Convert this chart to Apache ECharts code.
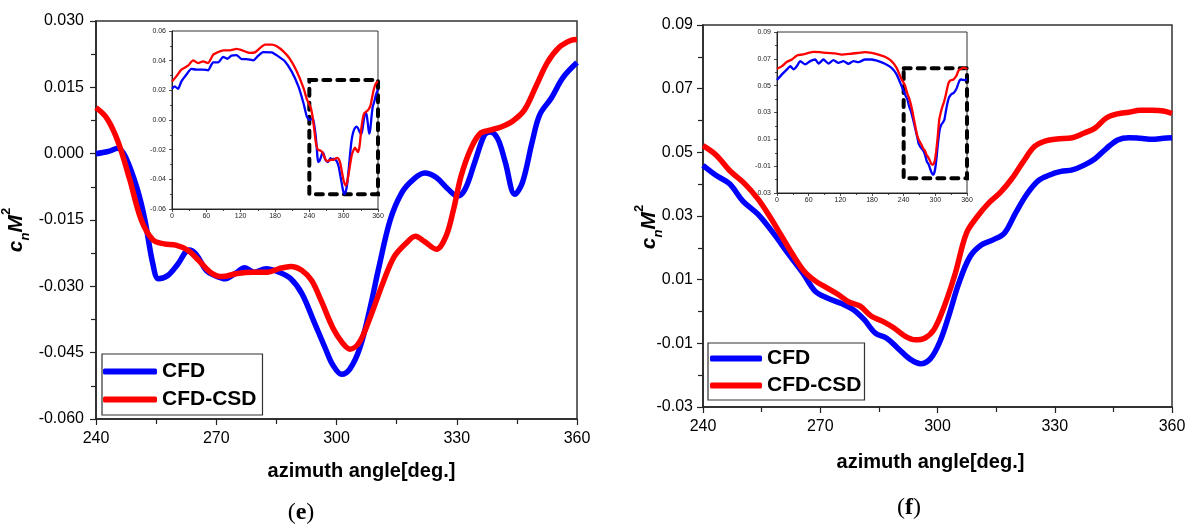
<!DOCTYPE html>
<html>
<head>
<meta charset="utf-8">
<script src="https://cdn.jsdelivr.net/npm/echarts@6/dist/echarts.min.js"></script>
<style>
  html, body { margin: 0; padding: 0; background: #fff; }
  #chart { width: 1193px; height: 530px; }
</style>
</head>
<body>
<div id="chart"></div>
<script>
// ---------- panel (e): normal force coefficient, 240–360 deg ----------
const eCfdAngle = [240,243,245.5,247.5,250.3,252.2,254.2,255.6,258,260.4,263.2,265,267.5,269.5,272.3,274.7,277.1,279.5,282.4,285.7,288.6,291.4,294.3,297.2,299.1,301.3,303.4,305.8,308.2,310.6,313.4,316.3,319.2,322,324.9,327.8,330.2,332.1,334.5,336.9,338.3,340.2,342.1,344.5,346.4,348.8,350.7,353.6,356.5,360];
const eCfdValue = [0.0,0.0005,0.0012,-0.001,-0.008,-0.015,-0.025,-0.0283,-0.0275,-0.025,-0.0218,-0.0228,-0.0264,-0.0275,-0.0283,-0.0271,-0.0258,-0.0268,-0.026,-0.0268,-0.0283,-0.0317,-0.0378,-0.044,-0.0478,-0.0499,-0.0486,-0.044,-0.0356,-0.0256,-0.015,-0.0088,-0.0058,-0.0044,-0.0054,-0.008,-0.0096,-0.008,-0.0019,0.0042,0.0049,0.0034,-0.0019,-0.0092,-0.0065,0.0026,0.0088,0.0126,0.0172,0.0206];
const eCsdAngle = [240,242.7,245.5,248.4,251.3,254.2,257,259.9,262.8,265.6,268.5,271.4,275.2,279,282.8,285.7,288.6,291.4,293.8,296.2,299.1,301.5,303.4,305.8,308.7,311.5,314.4,317.3,319.7,322,324.9,327.3,329.2,331.1,333.5,335.9,338.3,341.2,344,346.9,349.8,352.6,355.5,358.4,360];
const eCsdValue = [0.0104,0.008,0.0027,-0.0058,-0.015,-0.0195,-0.0204,-0.0207,-0.0218,-0.0241,-0.0268,-0.0278,-0.0271,-0.0268,-0.0268,-0.026,-0.0255,-0.0264,-0.0287,-0.0333,-0.0394,-0.0428,-0.0442,-0.0425,-0.0363,-0.0294,-0.0233,-0.0203,-0.0187,-0.0199,-0.0216,-0.0187,-0.0126,-0.005,0.0011,0.0046,0.0053,0.0061,0.0074,0.0099,0.0153,0.0206,0.024,0.0256,0.0258];

// first part of the revolution (0–240 deg), shown in the small overview plot
const eInsetCfdAngle = [0,4.7,10.5,16.4,25,34,42.7,54,63,71.9,80.6,89.4,96.4,104,112.8,121.5,130,142,150.8,159.5,174,185.8,197.5,209,220.9,229.7,235.5];
const eInsetCfdValue = [0.021,0.0227,0.021,0.026,0.0305,0.0344,0.034,0.034,0.0335,0.0389,0.0389,0.0425,0.0413,0.0434,0.0438,0.0411,0.0411,0.0402,0.0434,0.0458,0.0456,0.0429,0.0395,0.0328,0.0227,0.0115,0.0025];
const eInsetCsdAngle = [0,7.6,16.4,28,36.8,45.6,54.3,63,71.9,80.6,89.4,101,112.8,124.5,136,145,153.7,162.5,174,183,194.6,206.3,218,229.7,236];
const eInsetCsdValue = [0.026,0.0294,0.0339,0.0366,0.0402,0.0384,0.0395,0.0384,0.044,0.0458,0.047,0.047,0.0479,0.0467,0.0452,0.0456,0.0485,0.0508,0.0508,0.0497,0.0463,0.0411,0.0328,0.0216,0.0137];
const eZoomBox = { x: [240, 360], y: [-0.05, 0.027] };

// ---------- panel (f) ----------
const fCfdAngle = [240,243.4,246.8,250.2,254.1,258,261.8,265.7,268.6,271.5,275.4,278.3,281.2,284.1,287,289.9,292.8,295.7,298.2,300.6,303,305.4,308.3,311.2,314.2,317.1,320,322.9,325.8,328.7,331.6,334.5,337.4,340.3,343.2,346.1,349,351.9,354.9,357.8,360];
const fCfdValue = [0.0459,0.0427,0.0401,0.0347,0.0305,0.0246,0.0182,0.0118,0.0065,0.0044,0.0025,0.0007,-0.0025,-0.0068,-0.0084,-0.0116,-0.0148,-0.0164,-0.0148,-0.0095,-0.0009,0.0087,0.0172,0.0209,0.0225,0.0246,0.031,0.0369,0.0411,0.0429,0.044,0.0445,0.0459,0.048,0.0512,0.0539,0.0546,0.0544,0.0541,0.0544,0.0546];
const fCsdAngle = [240,243.4,246.8,250.7,254.1,257,259.9,262.8,265.7,268.6,271.5,274.4,277.3,280.2,283.1,286,288.9,291.9,294.3,296.7,299.1,301.6,304.5,307.4,310.3,313.2,316.1,319,321.9,324.8,327.7,330.6,334.5,337.4,340.3,343.2,346.1,349,351.9,354.9,357.8,360];
const fCsdValue = [0.0521,0.0491,0.0443,0.0401,0.0353,0.03,0.0241,0.0182,0.0129,0.0097,0.0076,0.0055,0.003,0.0017,-0.0015,-0.0031,-0.0052,-0.0079,-0.0089,-0.0084,-0.0057,0.0012,0.0118,0.0246,0.03,0.0342,0.0374,0.0417,0.047,0.0518,0.0536,0.0542,0.0546,0.056,0.0576,0.0608,0.0621,0.0626,0.0632,0.0632,0.063,0.0622];

const fInsetCfdAngle = [0,9.4,18.9,25.2,31.5,37.8,44,53.5,63,72.4,78.7,88,97.6,107,116.4,125.9,135.3,144.8,154.2,166.8,179.4,192,204.5,217,226.6,236];
const fInsetCfdValue = [0.0542,0.0584,0.0621,0.0646,0.0621,0.0646,0.0683,0.0658,0.0683,0.0695,0.0665,0.0695,0.0665,0.069,0.067,0.0683,0.0663,0.0683,0.0675,0.0695,0.0695,0.0683,0.0663,0.0633,0.0584,0.0497];
const fInsetCsdAngle = [0,9.4,18.9,28.3,37.8,47.2,56.6,69.2,81.8,94.4,110,122.7,138.5,154.2,166.8,179.4,192,204.5,217,226.6,236];
const fInsetCsdValue = [0.0626,0.0646,0.0678,0.0695,0.0725,0.0732,0.074,0.0752,0.075,0.0744,0.074,0.0732,0.0737,0.0744,0.075,0.0744,0.0732,0.0715,0.0683,0.0633,0.0547];
const fZoomBox = { x: [240, 360], y: [-0.019, 0.063] };

// tick labels
const fMainLabels = [-0.03, -0.01, 0.01, 0.03, 0.05, 0.07, 0.09];
const fMinorTicks = [-0.02, 0, 0.02, 0.04, 0.06, 0.08];
const seriesNames = ['CFD', 'CFD-CSD'];

const zip = (xs, ys) => xs.map((x, i) => [x, ys[i]]);

const FONT = '"Liberation Sans", Arial, sans-serif';
const SERIF = '"Liberation Serif", "Times New Roman", serif';
const BLUE = '#0000ff';
const RED = '#ff0000';
const AXIS = '#222';

const grids = [
  { left: 96, top: 21, width: 481, height: 398 },    // (e) main
  { left: 172, top: 31, width: 206, height: 178 },   // (e) overview
  { left: 703, top: 25, width: 469, height: 382 },   // (f) main
  { left: 777, top: 32, width: 190, height: 161 }    // (f) overview
].map((g, i) => Object.assign({
  show: true,
  outerBoundsMode: 'none',
  containLabel: false,
  borderColor: '#333',
  borderWidth: i % 2 ? 1 : 1.5,
  backgroundColor: 'transparent'
}, g));

function mainX(gridIndex, nameGap, shift) {
  return {
    type: 'value', gridIndex, min: 240, max: 360, interval: 30,
    axisLine: { onZero: false, lineStyle: { color: AXIS, width: 1.5 } },
    axisTick: { length: 6, lineStyle: { color: AXIS, width: 1.2 } },
    minorTick: { show: true, splitNumber: 2, length: 5, lineStyle: { color: AXIS, width: 1.2 } },
    splitLine: { show: false },
    axisLabel: { fontFamily: FONT, fontSize: 16, color: '#000', margin: 12 },
    name: 'azimuth angle[deg.]', nameLocation: 'middle', nameGap, nameMoveOverlap: false,
    nameTextStyle: { fontFamily: FONT, fontSize: 20, fontWeight: 'bold', color: '#000', padding: [0, 0, 0, shift] }
  };
}
function insetX(gridIndex) {
  return {
    type: 'value', gridIndex, min: 0, max: 360, interval: 60,
    axisLine: { onZero: false, lineStyle: { color: AXIS, width: 1 } },
    axisTick: { length: 3, lineStyle: { color: AXIS, width: 0.8 } },
    minorTick: { show: true, splitNumber: 2, length: 2, lineStyle: { color: AXIS, width: 0.8 } },
    splitLine: { show: false },
    axisLabel: { fontFamily: FONT, fontSize: 7, color: '#222', margin: 4 }
  };
}
const yRich = {
  i: { fontFamily: FONT, fontSize: 21, fontWeight: 'bold', fontStyle: 'italic', color: '#000', lineHeight: 32 },
  sub: { fontFamily: FONT, fontSize: 13, fontWeight: 'bold', fontStyle: 'italic', color: '#000', verticalAlign: 'bottom' },
  sup: { fontFamily: FONT, fontSize: 13, fontWeight: 'bold', color: '#000', verticalAlign: 'top' }
};
const yName = '{i|c}{sub|n}{i|M}{sup|2}';

function zoomBox(box) {
  return {
    silent: true,
    itemStyle: { color: 'rgba(0,0,0,0)', borderColor: '#000', borderWidth: 4, borderType: [7, 7], borderCap: 'round' },
    data: [[{ coord: [box.x[0], box.y[1]] }, { coord: [box.x[1], box.y[0]] }]]
  };
}

const option = {
  animation: false,
  backgroundColor: '#fff',
  grid: grids,
  xAxis: [mainX(0, 42, 50), insetX(1), mainX(2, 45, -14), insetX(3)],
  yAxis: [
    {
      type: 'value', gridIndex: 0, min: -0.06, max: 0.03, interval: 0.015,
      axisLine: { show: true, onZero: false, lineStyle: { color: AXIS, width: 1.5 } },
      axisTick: { show: true, length: 6, lineStyle: { color: AXIS, width: 1.2 } },
      minorTick: { show: true, splitNumber: 2, length: 5, lineStyle: { color: AXIS, width: 1.2 } },
      splitLine: { show: false },
      axisLabel: { fontFamily: FONT, fontSize: 16, color: '#000', margin: 12,
        formatter: v => (Math.abs(v) < 1e-9 ? 0 : v).toFixed(3) },
      name: yName, nameLocation: 'middle', nameGap: 64, nameRotate: 90, nameMoveOverlap: false,
      nameTextStyle: { padding: [0, 20, 0, 0], rich: yRich }
    },
    {
      type: 'value', gridIndex: 1, min: -0.06, max: 0.06, interval: 0.02,
      axisLine: { show: true, onZero: false, lineStyle: { color: AXIS, width: 1 } },
      axisTick: { show: true, length: 3, lineStyle: { color: AXIS, width: 0.8 } },
      minorTick: { show: true, splitNumber: 2, length: 2, lineStyle: { color: AXIS, width: 0.8 } },
      splitLine: { show: false },
      axisLabel: { fontFamily: FONT, fontSize: 7, color: '#222', margin: 6,
        formatter: v => (Math.abs(v) < 1e-9 ? 0 : v).toFixed(2) }
    },
    {
      type: 'value', gridIndex: 2, min: -0.03, max: 0.09, interval: 0.01, position: 'left',
      axisLine: { show: true, onZero: false, lineStyle: { color: AXIS, width: 1.5 } },
      axisTick: { show: true, length: 6, customValues: fMainLabels, lineStyle: { color: AXIS, width: 1.2 } },
      splitLine: { show: false },
      axisLabel: { fontFamily: FONT, fontSize: 16, color: '#000', margin: 10, customValues: fMainLabels,
        formatter: v => v.toFixed(2) },
      name: yName, nameLocation: 'middle', nameGap: 38, nameRotate: 90, nameMoveOverlap: false,
      nameTextStyle: { padding: [0, 22, 0, 0], rich: yRich }
    },
    {
      type: 'value', gridIndex: 2, min: -0.03, max: 0.09, interval: 0.01, position: 'left', offset: 0,
      axisLine: { show: false, onZero: false },
      axisTick: { show: true, length: 5, customValues: fMinorTicks, lineStyle: { color: AXIS, width: 1.2 } },
      axisLabel: { show: false },
      splitLine: { show: false }
    },
    {
      type: 'value', gridIndex: 3, min: -0.03, max: 0.09, interval: 0.01, position: 'left',
      axisLine: { show: true, onZero: false, lineStyle: { color: AXIS, width: 1 } },
      axisTick: { show: true, length: 3, customValues: fMainLabels, lineStyle: { color: AXIS, width: 0.8 } },
      splitLine: { show: false },
      axisLabel: { fontFamily: FONT, fontSize: 7, color: '#222', margin: 6, customValues: fMainLabels,
        formatter: v => v.toFixed(2) }
    },
    {
      type: 'value', gridIndex: 3, min: -0.03, max: 0.09, interval: 0.01, position: 'left', offset: 0,
      axisLine: { show: false, onZero: false },
      axisTick: { show: true, length: 2, customValues: fMinorTicks, lineStyle: { color: AXIS, width: 0.8 } },
      axisLabel: { show: false },
      splitLine: { show: false }
    }
  ],
  legend: [
    {
      data: seriesNames, orient: 'vertical', left: 102, top: 354,
      itemWidth: 54, itemHeight: 6, itemGap: 7, icon: 'roundRect',
      padding: [7, 6, 5, 1], borderColor: '#333', borderWidth: 1.2, selectedMode: false,
      textStyle: { fontFamily: FONT, fontSize: 21, fontWeight: 'bold', color: '#000' }
    },
    {
      data: seriesNames, orient: 'vertical', left: 708, top: 343,
      itemWidth: 52, itemHeight: 6, itemGap: 6, icon: 'roundRect',
      padding: [5, 3, 4, 2], borderColor: '#333', borderWidth: 1.2, selectedMode: false,
      textStyle: { fontFamily: FONT, fontSize: 21, fontWeight: 'bold', color: '#000' }
    }
  ],
  series: [
    // panel (e)
    { name: 'CFD', type: 'line', xAxisIndex: 0, yAxisIndex: 0, data: zip(eCfdAngle, eCfdValue),
      smooth: 0.35, showSymbol: false, lineStyle: { color: BLUE, width: 5.5 }, itemStyle: { color: BLUE } },
    { name: 'CFD-CSD', type: 'line', xAxisIndex: 0, yAxisIndex: 0, data: zip(eCsdAngle, eCsdValue),
      smooth: 0.35, showSymbol: false, lineStyle: { color: RED, width: 5.5 }, itemStyle: { color: RED } },
    { name: 'CFD', type: 'line', xAxisIndex: 1, yAxisIndex: 1,
      data: zip(eInsetCfdAngle.concat(eCfdAngle), eInsetCfdValue.concat(eCfdValue)),
      smooth: 0.2, showSymbol: false, lineStyle: { color: BLUE, width: 2.3 } },
    { name: 'CFD-CSD', type: 'line', xAxisIndex: 1, yAxisIndex: 1, clip: false,
      data: zip(eInsetCsdAngle.concat(eCsdAngle), eInsetCsdValue.concat(eCsdValue)),
      smooth: 0.2, showSymbol: false, lineStyle: { color: RED, width: 2.3 },
      markArea: zoomBox(eZoomBox) },
    // panel (f)
    { name: 'CFD', type: 'line', xAxisIndex: 2, yAxisIndex: 2, data: zip(fCfdAngle, fCfdValue),
      smooth: 0.35, showSymbol: false, lineStyle: { color: BLUE, width: 5.5 }, itemStyle: { color: BLUE } },
    { name: 'CFD-CSD', type: 'line', xAxisIndex: 2, yAxisIndex: 2, data: zip(fCsdAngle, fCsdValue),
      smooth: 0.35, showSymbol: false, lineStyle: { color: RED, width: 5.5 }, itemStyle: { color: RED } },
    { name: 'CFD', type: 'line', xAxisIndex: 3, yAxisIndex: 4,
      data: zip(fInsetCfdAngle.concat(fCfdAngle), fInsetCfdValue.concat(fCfdValue)),
      smooth: 0.2, showSymbol: false, lineStyle: { color: BLUE, width: 2.3 } },
    { name: 'CFD-CSD', type: 'line', xAxisIndex: 3, yAxisIndex: 4, clip: false,
      data: zip(fInsetCsdAngle.concat(fCsdAngle), fInsetCsdValue.concat(fCsdValue)),
      smooth: 0.2, showSymbol: false, lineStyle: { color: RED, width: 2.3 },
      markArea: zoomBox(fZoomBox) }
  ],
  graphic: [
    { type: 'text', x: 301, y: 513, style: { text: '({b|e})', font: '24px ' + SERIF, fill: '#000',
      align: 'center', verticalAlign: 'middle', rich: { b: { fontFamily: SERIF, fontSize: 24, fontWeight: 'bold', fill: '#000' } } } },
    { type: 'text', x: 909, y: 508, style: { text: '({b|f})', font: '24px ' + SERIF, fill: '#000',
      align: 'center', verticalAlign: 'middle', rich: { b: { fontFamily: SERIF, fontSize: 24, fontWeight: 'bold', fill: '#000' } } } }
  ]
};

const chart = echarts.init(document.getElementById('chart'), null, { renderer: 'canvas' });
chart.setOption(option);
</script>
</body>
</html>
